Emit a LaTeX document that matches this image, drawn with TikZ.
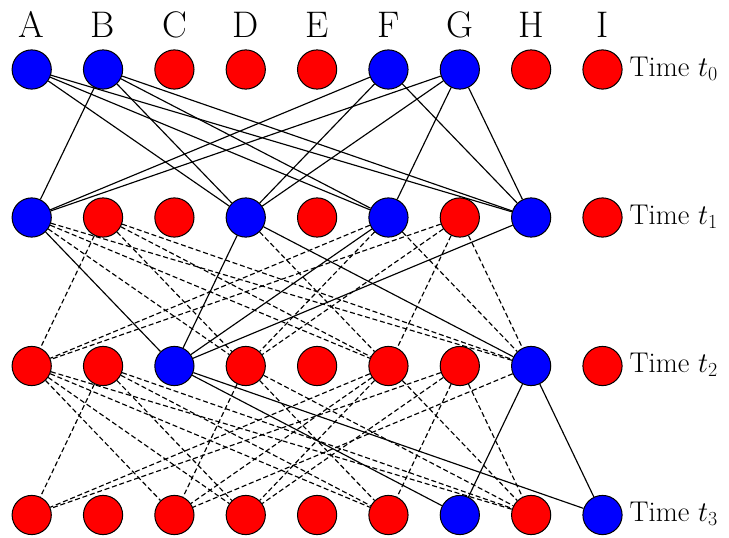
\RequirePackage{fix-cm}
\documentclass[tikz,border=0pt]{standalone}
\usepackage{fontspec}
\begin{document}
\begin{tikzpicture}[x=1pt,y=-1pt,
  agent/.style={circle,draw=black,line width=1pt,minimum size=39.2pt,inner sep=0pt},
  link/.style={line width=1.15pt},
  maybe/.style={line width=1.15pt,dash pattern=on 5pt off 2.8pt},
  collabel/.style={font=\fontsize{37}{39}\selectfont,anchor=base,inner sep=0pt},
  timelabel/.style={font=\fontsize{28.5}{30}\selectfont,anchor=base west,inner sep=0pt}]
\useasboundingbox (0,0) rectangle (729,538);

% agents: column letter, index, state at t0..t3
\foreach \col/\i/\ka/\kb/\kc/\kd in {
    A/0/blue/blue/red/red,
    B/1/blue/red/red/red,
    C/2/red/red/blue/red,
    D/3/red/blue/red/red,
    E/4/red/red/red/red,
    F/5/blue/blue/red/red,
    G/6/blue/red/red/blue,
    H/7/red/blue/blue/red,
    I/8/red/red/red/blue}{
  \node[collabel] (lab\col) at ({31.7+71.35*\i},37.3) {\col};
  \node[agent,fill=\ka] (\col0) at ({31.7+71.35*\i},69.5) {};
  \node[agent,fill=\kb] (\col1) at ({31.7+71.35*\i},217.5) {};
  \node[agent,fill=\kc] (\col2) at ({31.7+71.35*\i},366) {};
  \node[agent,fill=\kd] (\col3) at ({31.7+71.35*\i},515) {};
}

% time labels
\foreach \r/\y in {0/69.5,1/217.5,2/366,3/515}
  \node[timelabel] (time\r) at (629.5,\y+6.5) {Time $t_{\r}$};

% t0 -> t1
\foreach \s/\t in {A/D,A/F,A/H,B/A,B/D,B/F,B/H,F/A,F/D,F/H,G/A,G/D,G/F,G/H}
  \draw[link] (\s0) -- (\t1);

% t1 -> t2
\foreach \s/\t in {A/C,D/C,F/C,H/C,D/H}
  \draw[link] (\s1) -- (\t2);
\foreach \s/\t in {B/A,F/A,G/A,A/D,B/D,F/D,G/D,A/F,B/F,D/F,G/F,A/H,B/H,F/H,G/H}
  \draw[maybe] (\s1) -- (\t2);

% t2 -> t3
\foreach \s/\t in {C/G,C/I,H/G,H/I}
  \draw[link] (\s2) -- (\t3);
\foreach \s/\t in {B/A,F/A,G/A,A/C,D/C,F/C,H/C,A/D,B/D,F/D,G/D,A/F,B/F,D/F,G/F,A/H,B/H,D/H,F/H,G/H}
  \draw[maybe] (\s2) -- (\t3);
\end{tikzpicture}
\end{document}
